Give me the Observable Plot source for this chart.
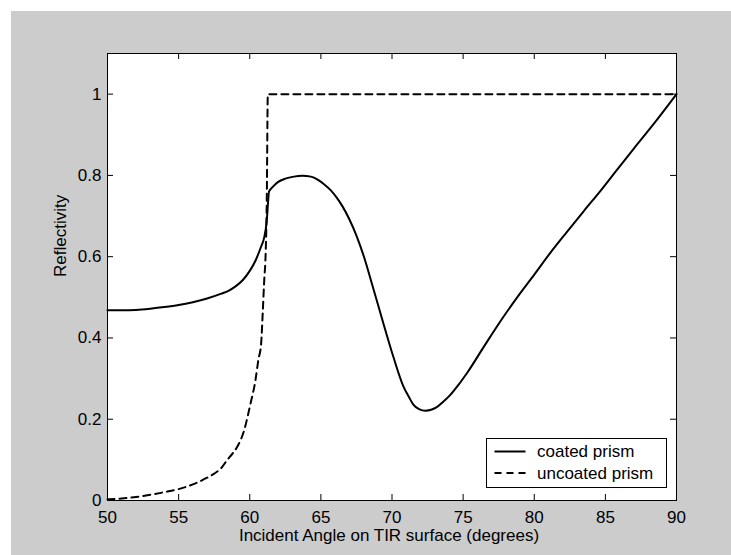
<!DOCTYPE html>
<html><head><meta charset="utf-8">
<script src="https://cdn.jsdelivr.net/npm/d3@7"></script>
<script src="https://cdn.jsdelivr.net/npm/@observablehq/plot@0.6"></script>
<style>
html,body{margin:0;padding:0;background:#fff;}
#chart{position:absolute;left:11px;top:11px;width:720px;height:544px;background:#cccccc;}
#chart svg{display:block;}
</style></head><body><div id="chart"></div>
<script>
const coatedAngle = [50,51,52,53,54,55,56,57,58,58.5,59,59.5,60,60.4,60.8,61.0,61.2,61.3,61.35,61.6,62.0,62.5,63.1,63.7,64.3,64.8,65.2,65.7,66.1,66.5,67.0,67.5,68.0,68.7,69.4,70.1,70.8,71.2,71.5,71.9,72.35,72.8,73.2,73.6,74.1,74.7,75.3,76.45,77.6,78.8,80.0,81.1,82.3,83.5,84.7,85.8,87.0,88.2,89.35,90];
const coatedR = [0.468,0.468,0.469,0.472,0.476,0.481,0.488,0.497,0.509,0.516,0.527,0.542,0.565,0.59,0.625,0.645,0.69,0.74,0.76,0.771,0.784,0.792,0.797,0.799,0.797,0.789,0.779,0.763,0.746,0.725,0.692,0.652,0.603,0.52,0.435,0.353,0.281,0.254,0.236,0.225,0.221,0.224,0.231,0.243,0.260,0.286,0.315,0.378,0.440,0.500,0.556,0.608,0.661,0.713,0.764,0.813,0.866,0.918,0.970,1.0];
const uncoatedAngle = [50,51,51.85,53,54.2,55,56.1,57,57.5,58,58.4,58.8,59.1,59.6,60.05,60.4,60.6,60.8,60.92,61.03,61.1,61.2,61.27,70,80,90];
const uncoatedR = [0.003,0.005,0.008,0.014,0.022,0.028,0.041,0.056,0.066,0.08,0.099,0.116,0.131,0.172,0.238,0.296,0.345,0.386,0.468,0.55,0.59,0.75,1.0,1.0,1.0,1.0];
const xTicks = [50,55,60,65,70,75,80,85,90];
const xTickLabels = ["50","55","60","65","70","75","80","85","90"];
const yTicks = [0,0.2,0.4,0.6,0.8,1];
const yTickLabels = ["0","0.2","0.4","0.6","0.8","1"];
const seriesNames = ["coated prism","uncoated prism"];
const xLabel = "Incident Angle on TIR surface (degrees)";
const yLabel = "Reflectivity";

const coated = coatedAngle.map((a,i)=>({angle:a, r:coatedR[i]}));
const uncoated = uncoatedAngle.map((a,i)=>({angle:a, r:uncoatedR[i]}));

const W = 720, H = 544, mL = 96, mR = 55, mT = 42, mB = 55;
const iw = W - mL - mR, ih = H - mT - mB, tk = 6;
const FONT = "'Liberation Sans', Arial, Helvetica, sans-serif";

const chart = Plot.plot({
  width: W, height: H,
  marginLeft: mL, marginRight: mR, marginTop: mT, marginBottom: mB,
  style: {background: "transparent", fontFamily: FONT, fontSize: "17px", color: "#000", overflow: "visible"},
  x: {domain: [50, 90]},
  y: {domain: [0, 1.1]},
  marks: [
    Plot.frame({fill: "white"}),
    Plot.line(uncoated, {x: "angle", y: "r", stroke: "#000", strokeWidth: 2, strokeDasharray: "7,5", curve: "monotone-x"}),
    Plot.line(coated, {x: "angle", y: "r", stroke: "#000", strokeWidth: 2, curve: "monotone-x"}),
    Plot.tickX(xTicks, {x: d => d, insetTop: ih - tk, stroke: "#000"}),
    Plot.tickX(xTicks, {x: d => d, insetBottom: ih - tk, stroke: "#000"}),
    Plot.tickY(yTicks, {y: d => d, insetRight: iw - tk, stroke: "#000"}),
    Plot.tickY(yTicks, {y: d => d, insetLeft: iw - tk, stroke: "#000"}),
    Plot.axisX(xTicks, {tickSize: 0, tickPadding: 10, label: null, tickFormat: d => xTickLabels[xTicks.indexOf(d)]}),
    Plot.axisY(yTicks, {tickSize: 0, tickPadding: 6, label: null, tickFormat: d => yTickLabels[yTicks.indexOf(d)]}),
    Plot.text([xLabel], {text: d => d, frameAnchor: "bottom", dy: 40, dx: -3, fill: "#000"}),
    Plot.text([yLabel], {text: d => d, frameAnchor: "left", dx: -47, rotate: -90, fill: "#000"}),
    Plot.frame({stroke: "#000", strokeWidth: 1})
  ]
});
document.getElementById("chart").appendChild(chart);

// legend
const xr = chart.scale("x").range, yr = chart.scale("y").range;
const right = Math.max(...xr), bottom = Math.max(...yr);
const bw = 180, bh = 49;
const bx = right - 10 - bw, by = bottom - 13 - bh;
const g = d3.select(chart).append("g").attr("font-family", FONT).attr("font-size", 17).attr("text-anchor", "start");
g.append("rect").attr("x", bx + 0.5).attr("y", by + 0.5).attr("width", bw).attr("height", bh)
  .attr("fill", "white").attr("stroke", "#000");
const rows = [{name: seriesNames[0], dash: null, ly: 13.5, ty: 19}, {name: seriesNames[1], dash: "7,5", ly: 35, ty: 40.5}];
rows.forEach(r => {
  g.append("line").attr("x1", bx + 8.5).attr("x2", bx + 39.5).attr("y1", by + r.ly).attr("y2", by + r.ly)
    .attr("stroke", "#000").attr("stroke-width", 2).attr("stroke-dasharray", r.dash);
  g.append("text").attr("x", bx + 51).attr("y", by + r.ty).attr("fill", "#000").attr("text-anchor", "start").text(r.name);
});
</script></body></html>
